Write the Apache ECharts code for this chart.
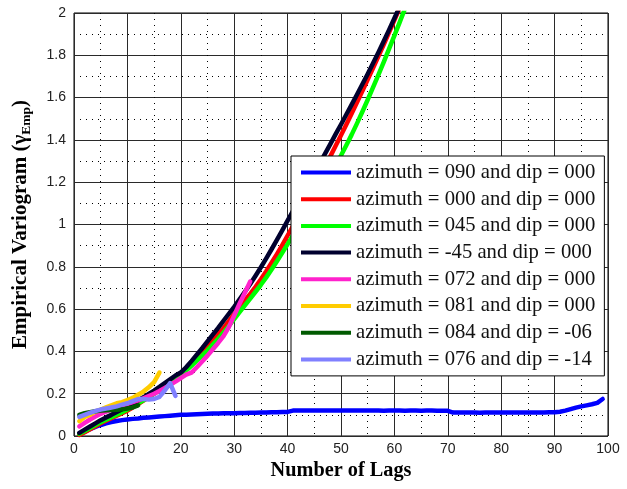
<!DOCTYPE html>
<html>
<head>
<meta charset="utf-8">
<script src="https://cdn.jsdelivr.net/npm/echarts@6/dist/echarts.min.js"></script>
<style>
  html, body { margin: 0; padding: 0; background: #fff; }
  #chart { width: 627px; height: 489px; }
</style>
</head>
<body>
<div id="chart"></div>
<script>
// Directional empirical variograms, gamma vs. lag number

const xTickLabels = ['0', '10', '20', '30', '40', '50', '60', '70', '80', '90', '100'];
const yTickLabels = ['0', '0.2', '0.4', '0.6', '0.8', '1', '1.2', '1.4', '1.6', '1.8', '2'];

const seriesNames = [
  'azimuth = 090 and dip = 000',
  'azimuth = 000 and dip = 000',
  'azimuth = 045 and dip = 000',
  'azimuth = -45 and dip = 000',
  'azimuth = 072 and dip = 000',
  'azimuth = 081 and dip = 000',
  'azimuth = 084 and dip = -06',
  'azimuth = 076 and dip = -14'
];
const seriesColors = ['#0000ff', '#ff0000', '#00ff00', '#00002e', '#ff22cc', '#ffcc00', '#005a00', '#8080ff'];

// gamma values, one per lag starting at lag 1
const az090 = [
  0.010, 0.020, 0.032, 0.043, 0.052, 0.060, 0.066, 0.071, 0.075, 0.078,
  0.081, 0.083, 0.086, 0.088, 0.090, 0.092, 0.094, 0.096, 0.098, 0.100,
  0.101, 0.102, 0.103, 0.104, 0.105, 0.106, 0.106, 0.107, 0.107, 0.108,
  0.109, 0.109, 0.110, 0.110, 0.111, 0.111, 0.112, 0.112, 0.113, 0.114,
  0.120, 0.120, 0.121, 0.120, 0.120, 0.121, 0.121, 0.120, 0.120, 0.121,
  0.121, 0.120, 0.120, 0.120, 0.121, 0.120, 0.120, 0.119, 0.120, 0.120,
  0.120, 0.119, 0.120, 0.120, 0.119, 0.120, 0.120, 0.119, 0.119, 0.119,
  0.111, 0.111, 0.111, 0.111, 0.111, 0.110, 0.111, 0.111, 0.111, 0.111,
  0.111, 0.111, 0.111, 0.111, 0.111, 0.111, 0.111, 0.111, 0.112, 0.112,
  0.115, 0.120, 0.127, 0.134, 0.140, 0.145, 0.150, 0.157, 0.175
];
const az000 = [
  0.005, 0.018, 0.032, 0.046, 0.060, 0.072, 0.084, 0.096, 0.108, 0.120,
  0.135, 0.151, 0.167, 0.183, 0.200, 0.217, 0.235, 0.253, 0.271, 0.290,
  0.315, 0.341, 0.368, 0.395, 0.423, 0.452, 0.481, 0.510, 0.543, 0.578,
  0.612, 0.641, 0.672, 0.705, 0.741, 0.779, 0.819, 0.860, 0.903, 0.948,
  0.993, 1.038, 1.084, 1.130, 1.177, 1.225, 1.273, 1.322, 1.372, 1.422,
  1.473, 1.525, 1.578, 1.631, 1.685, 1.740, 1.795, 1.851, 1.908, 1.966,
  2.025, 2.085
];
const az045 = [
  0.010, 0.024, 0.038, 0.052, 0.065, 0.077, 0.089, 0.101, 0.113, 0.125,
  0.139, 0.154, 0.169, 0.184, 0.200, 0.217, 0.234, 0.251, 0.269, 0.288,
  0.310, 0.332, 0.356, 0.380, 0.405, 0.432, 0.460, 0.490, 0.521, 0.553,
  0.586, 0.618, 0.650, 0.682, 0.715, 0.750, 0.787, 0.826, 0.866, 0.907,
  0.948, 0.989, 1.030, 1.072, 1.114, 1.156, 1.198, 1.240, 1.283, 1.326,
  1.375, 1.425, 1.478, 1.533, 1.590, 1.648, 1.707, 1.768, 1.830, 1.893,
  1.957, 2.022, 2.090
];
const azM45 = [
  0.015, 0.030, 0.045, 0.060, 0.075, 0.088, 0.100, 0.113, 0.126, 0.140,
  0.153, 0.168, 0.183, 0.199, 0.215, 0.232, 0.250, 0.268, 0.286, 0.300,
  0.325, 0.354, 0.385, 0.415, 0.447, 0.479, 0.511, 0.545, 0.578, 0.611,
  0.646, 0.682, 0.719, 0.758, 0.798, 0.840, 0.883, 0.927, 0.972, 1.018,
  1.063, 1.108, 1.153, 1.198, 1.243, 1.288, 1.334, 1.380, 1.427, 1.473,
  1.520, 1.567, 1.615, 1.663, 1.712, 1.762, 1.813, 1.866, 1.920, 1.975,
  2.030, 2.090
];
const az072 = [
  0.045, 0.062, 0.078, 0.092, 0.105, 0.115, 0.125, 0.135, 0.145, 0.152,
  0.160, 0.168, 0.178, 0.189, 0.200, 0.213, 0.227, 0.242, 0.257, 0.274,
  0.290, 0.300, 0.325, 0.352, 0.380, 0.410, 0.440, 0.472, 0.515, 0.570,
  0.625, 0.678, 0.730
];
const az081 = [
  0.070, 0.090, 0.100, 0.115, 0.125, 0.135, 0.145, 0.155, 0.160, 0.170,
  0.180, 0.195, 0.210, 0.230, 0.255, 0.300
];
const az084 = [
  0.100, 0.108, 0.113, 0.117, 0.120, 0.122, 0.123, 0.124, 0.126, 0.130,
  0.135, 0.145
];
const az076 = [
  0.090, 0.100, 0.110, 0.118, 0.125, 0.130, 0.135, 0.140, 0.148, 0.155,
  0.165, 0.175, 0.175, 0.172, 0.175, 0.185, 0.215, 0.250, 0.190
];

const seriesValues = [az090, az000, az045, azM45, az072, az081, az084, az076];

const toPoints = vals => vals.map((v, i) => [i + 1, v]);

const chart = echarts.init(document.getElementById('chart'), null, { renderer: 'canvas' });

const titleFont = { fontFamily: 'Liberation Serif', fontWeight: 'bold', color: '#000' };

chart.setOption({
  animation: false,
  backgroundColor: '#fff',
  grid: {
    left: 74, right: 19, top: 13, bottom: 53,
    show: true, borderColor: '#000', borderWidth: 1, backgroundColor: 'transparent'
  },
  legend: {
    orient: 'vertical',
    left: 291, top: 156,
    icon: 'rect',
    itemWidth: 50, itemHeight: 4,
    itemGap: 5.7,
    itemTextGap: 5,
    selectedMode: false,
    padding: [6, 9, 6, 10],
    backgroundColor: '#fff',
    borderColor: '#000',
    borderWidth: 1,
    textStyle: { fontFamily: 'Liberation Serif', fontSize: 20.7, color: '#111', lineHeight: 21 },
    data: seriesNames
  },
  xAxis: {
    type: 'value', min: 0, max: 100, interval: 10,
    name: 'Number of Lags', nameLocation: 'middle', nameGap: 25,
    nameTextStyle: Object.assign({ fontSize: 20.3 }, titleFont),
    axisLine: { show: false },
    axisTick: { show: false },
    axisLabel: {
      margin: 6, fontFamily: 'Liberation Sans', fontSize: 14, color: '#222',
      formatter: v => xTickLabels[Math.round(v / 10)]
    },
    splitLine: { show: true, lineStyle: { color: '#2a2a2a', width: 1 } },
    minorTick: { show: false, splitNumber: 2 },
    minorSplitLine: { show: true, lineStyle: { color: '#000', width: 1, type: [1, 5] } }
  },
  yAxis: {
    type: 'value', min: 0, max: 2, interval: 0.2,
    name: '{t|Empirical Variogram (}{t|γ}{s|Emp}{t|)}',
    nameLocation: 'middle', nameRotate: 90, nameGap: 40,
    nameTextStyle: {
      rich: {
        t: Object.assign({ fontSize: 21, lineHeight: 26, verticalAlign: 'middle' }, titleFont),
        s: Object.assign({ fontSize: 13.5, lineHeight: 12, verticalAlign: 'bottom' }, titleFont)
      }
    },
    axisLine: { show: false },
    axisTick: { show: false },
    axisLabel: {
      margin: 8, fontFamily: 'Liberation Sans', fontSize: 14, color: '#222',
      formatter: v => yTickLabels[Math.round(v / 0.2)]
    },
    splitLine: { show: true, lineStyle: { color: '#2a2a2a', width: 1 } },
    minorTick: { show: false, splitNumber: 2 },
    minorSplitLine: { show: true, lineStyle: { color: '#000', width: 1, type: [1, 5] } }
  },
  series: seriesNames.map((name, i) => ({
    name,
    type: 'line',
    data: toPoints(seriesValues[i]),
    symbol: 'none',
    showSymbol: false,
    clip: true,
    z: 2,
    color: seriesColors[i],
    lineStyle: { color: seriesColors[i], width: 4.5, join: 'round', cap: 'round' }
  }))
});
</script>
</body>
</html>
